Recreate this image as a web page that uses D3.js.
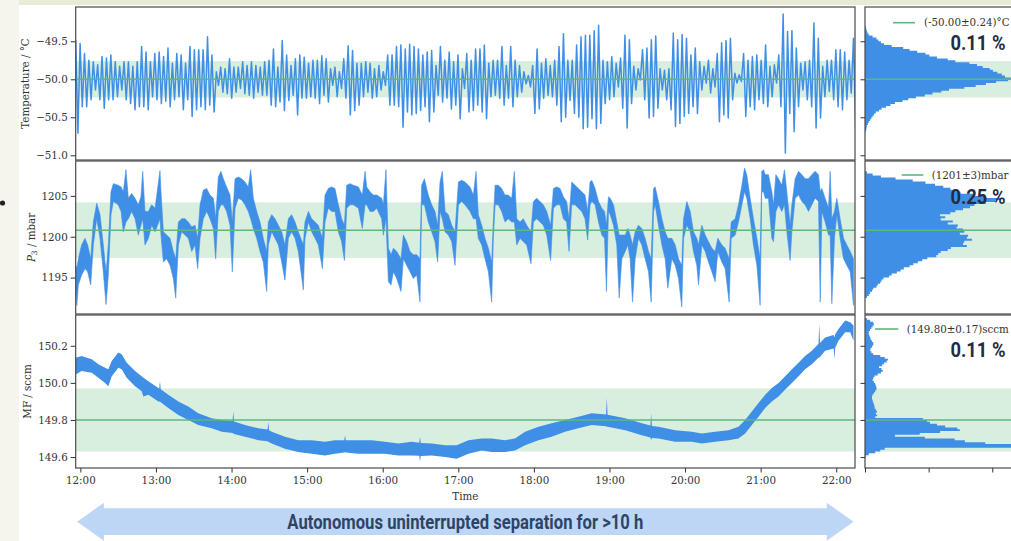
<!DOCTYPE html>
<html>
<head>
<meta charset="utf-8">
<script src="https://cdn.jsdelivr.net/npm/d3@7"></script>
<style>
  html, body { margin: 0; padding: 0; background: #f5f5ee; overflow: hidden; }
  svg { display: block; }
  .tick text { font-family: "DejaVu Serif", serif; font-size: 10.3px; fill: #333; }
  .tick line { stroke: #333; stroke-width: 1; }
</style>
</head>
<body>
<svg id="chart" width="1011" height="541"></svg>
<script>
// ---------- time axis (minutes after 12:00) ----------
const hourTickMinutes = [0, 60, 120, 180, 240, 300, 360, 420, 480, 540, 600];
const hourTickLabels = ["12:00", "13:00", "14:00", "15:00", "16:00", "17:00", "18:00", "19:00", "20:00", "21:00", "22:00"];

// ---------- temperature (°C): successive maxima / minima of the regulation swing ----------
const tempStartMin = -3.7;
const tempStepMin = 1.744;
const temperature = [
  // 12:00 – 13:30
  -49.48,-50.71, -49.53,-50.36, -49.66,-50.36, -49.75,-50.27, -49.77,-50.14, -49.81,-50.27, -49.70,-50.38, -49.72,-50.27, -49.68,-50.27, -49.77,-50.23,
  -49.83,-50.14, -49.77,-50.27, -49.77,-50.32, -49.83,-50.40, -49.77,-50.36, -49.57,-50.36, -49.64,-50.40, -49.77,-50.23, -49.66,-50.27, -49.64,-50.32,
  -49.70,-50.29, -49.59,-50.36, -49.79,-50.27, -49.66,-50.23, -49.68,-50.40, -49.79,-50.27, -49.57,-50.49, -49.61,-50.40, -49.61,-50.36, -49.61,-50.40,
  // 13:30 – 15:10
  -49.44,-50.34, -49.68,-50.43, -49.90,-50.08, -49.84,-50.17, -49.86,-50.19, -49.73,-50.25, -49.84,-50.17, -49.84,-50.12, -49.77,-50.19, -49.82,-50.21,
  -49.77,-50.25, -49.82,-50.17, -49.84,-50.21, -49.77,-50.21, -49.75,-50.34, -49.60,-50.36, -49.84,-50.30, -49.49,-50.41, -49.68,-50.28, -49.82,-50.21,
  -49.73,-50.47, -49.68,-50.25, -49.71,-50.25, -49.79,-50.23, -49.75,-50.25, -49.75,-50.32, -49.69,-50.21, -49.73,-50.30, -49.86,-50.08, -49.84,-50.23,
  // 15:10 – 18:40
  -49.90,-50.12, -49.73,-50.25, -49.56,-50.47, -49.62,-50.41, -49.79,-50.34, -49.79,-50.23, -49.77,-50.17, -49.79,-50.25, -49.86,-50.23, -49.82,-50.14,
  -49.90,-50.08, -49.68,-50.34, -49.68,-50.34, -49.57,-50.36, -49.55,-50.63, -49.60,-50.43, -49.54,-50.47, -49.57,-50.45, -49.60,-50.41, -49.68,-50.36,
  -49.64,-50.56, -49.62,-50.43, -49.82,-50.21, -49.57,-50.30, -49.75,-50.25, -49.64,-50.39, -49.77,-50.34, -49.68,-50.52, -49.86,-50.12, -49.66,-50.43,
  -49.75,-50.41, -49.60,-50.34, -49.60,-50.43, -49.55,-50.52, -49.79,-50.23, -49.75,-50.21, -49.75,-50.25, -49.57,-50.34, -49.82,-50.25, -49.57,-50.36,
  -49.75,-50.23, -49.82,-50.17, -49.90,-50.06, -49.95,-50.10, -49.82,-50.45, -49.60,-50.39, -49.79,-50.25, -49.73,-50.21, -49.82,-50.23, -49.75,-50.34,
  -49.57,-50.56, -49.40,-50.50, -49.75,-50.28, -49.75,-50.45, -49.55,-50.50, -49.44,-50.65, -49.42,-50.63, -49.42,-50.52, -49.36,-50.65, -49.29,-50.58,
  // 18:40 – 22:14
  -49.75,-50.32, -49.77,-50.27, -49.70,-50.23, -49.79,-50.10, -49.72,-50.38, -49.42,-50.64, -49.48,-50.32, -49.83,-50.14, -49.86,-50.01, -49.61,-50.27,
  -49.59,-50.51, -49.48,-50.49, -49.43,-50.38, -49.86,-50.14, -49.88,-50.27, -49.86,-50.40, -49.39,-50.62, -49.48,-50.58, -49.41,-50.49, -49.46,-50.45,
  -49.68,-50.36, -49.59,-50.45, -49.77,-50.14, -49.83,-50.05, -49.75,-50.18, -49.86,-50.10, -49.66,-50.56, -49.52,-50.47, -49.49,-50.51, -49.46,-50.27,
  -49.92,-50.05, -49.94,-50.03, -49.66,-50.49, -49.75,-50.36, -49.70,-50.40, -49.68,-50.27, -49.75,-50.32, -49.55,-50.36, -49.83,-50.23, -49.81,-50.05,
  -49.68,-50.36, -49.14,-50.97, -49.37,-50.45, -49.36,-50.69, -49.59,-50.36, -49.79,-50.14, -49.77,-50.27, -49.75,-50.36, -49.26,-50.64, -49.46,-50.51,
  -49.83,-50.23, -49.75,-50.16, -49.75,-50.27, -49.61,-50.36, -49.61,-50.40, -49.64,-50.27, -49.75,-50.18, -49.46,-50.64, -49.31,-50.71,
  -49.61
];

// ---------- pressure P3 (mbar): lower / upper envelope of the noisy trace ----------
const p3Minutes = [
  -3.7,-2.8,-1.6,1.0,3.7,5.8,8.2,10.3,13.0,15.6,18.2,20.4,22.2,24.3,26.2,30.1,32.3,34.1,36.2,38.1,
  40.7,43.4,46.0,48.1,49.5,51.3,54.0,56.6,59.3,63.2,64.0,65.9,68.5,71.2,73.8,75.7,77.8,80.4,83.1,85.7,
  88.4,91.0,93.1,95.0,97.6,100.3,102.9,105.6,107.4,109.5,111.6,113.5,116.1,118.8,120.6,122.8,125.4,128.0,130.7,133.3,
  135.2,137.3,140.0,142.6,145.2,147.9,149.2,151.9,154.5,157.2,159.8,162.4,165.1,167.7,170.4,173.0,177.0,178.3,181.0,183.6,
  186.3,188.9,192.1,194.2,196.8,199.5,202.1,204.8,207.4,209.6,211.4,214.1,216.7,220.7,223.8,226.0,227.3,229.9,232.6,235.2,
  239.2,240.5,242.6,244.5,246.6,248.5,251.1,254.5,256.4,259.0,261.7,264.3,267.0,269.6,270.9,273.1,276.2,278.9,281.5,283.6,
  285.5,287.3,289.5,292.1,294.8,297.4,300.1,302.7,305.3,309.3,312.0,314.1,315.9,318.6,321.2,323.9,326.5,327.8,329.2,331.8,
  334.4,337.1,339.7,342.4,344.5,346.4,349.0,351.6,354.3,357.7,359.6,362.2,364.9,367.5,370.2,373.3,375.5,378.1,380.8,383.4,
  386.0,387.9,390.0,392.7,395.3,398.0,400.6,402.7,404.6,406.0,408.6,411.3,413.9,416.1,417.6,419.2,420.6,423.2,425.8,427.7,
  429.8,432.5,434.6,436.4,438.3,440.4,443.0,445.7,448.3,451.0,453.1,455.0,456.3,458.9,461.6,464.2,466.3,469.5,472.2,474.8,
  477.4,478.8,481.4,484.1,486.7,489.3,490.7,493.3,496.0,498.6,501.3,503.9,506.0,509.2,511.8,515.0,516.6,519.8,522.4,525.1,
  527.2,529.0,531.7,534.3,537.0,539.6,540.9,542.3,543.6,546.2,548.9,550.2,552.1,554.2,556.8,558.9,560.8,563.4,564.8,567.4,
  570.1,572.7,575.3,578.0,580.6,583.3,585.9,587.3,588.6,591.2,593.9,595.2,596.5,598.6,600.5,603.1,605.8,608.4,611.1,613.7
];
const p3Low = [
  1193.7,1191.6,1194.1,1195.3,1196.1,1195.7,1194.1,1199.0,1202.2,1199.8,1195.7,1191.7,1195.3,1202.7,1204.3,1203.9,1203.1,1200.6,1201.8,1202.2,
  1203.1,1202.2,1200.2,1201.4,1202.2,1199.0,1199.8,1201.4,1200.6,1202.2,1200.2,1196.9,1197.3,1196.5,1194.9,1192.5,1199.0,1200.6,1200.2,1199.8,
  1198.2,1199.0,1196.1,1199.8,1202.2,1203.1,1202.2,1201.0,1197.3,1203.1,1203.9,1203.9,1203.1,1201.4,1195.7,1203.5,1204.7,1204.5,1203.9,1203.1,
  1202.2,1201.0,1199.8,1198.2,1196.9,1193.3,1199.0,1200.6,1199.8,1199.0,1196.9,1194.7,1199.8,1200.6,1199.8,1198.2,1193.5,1199.8,1201.8,1200.6,
  1199.8,1199.0,1196.1,1201.8,1203.5,1203.1,1203.1,1200.6,1199.4,1197.1,1203.5,1203.9,1203.9,1203.5,1201.0,1203.9,1203.9,1203.1,1203.1,1203.5,
  1202.2,1200.2,1202.2,1194.5,1194.1,1195.7,1194.9,1193.3,1197.3,1196.5,1195.7,1194.9,1195.3,1192.0,1203.9,1203.9,1201.8,1200.6,1199.4,1196.9,
  1203.1,1202.2,1200.6,1200.2,1199.4,1196.5,1203.9,1204.3,1203.9,1203.1,1202.2,1202.2,1199.8,1199.0,1197.3,1195.7,1192.0,1199.8,1203.9,1203.9,
  1203.1,1201.8,1202.2,1201.8,1201.8,1199.0,1199.8,1199.4,1199.0,1196.7,1201.8,1202.2,1201.8,1201.4,1200.2,1197.1,1203.5,1203.9,1203.9,1202.2,
  1201.8,1198.2,1203.9,1203.9,1203.5,1203.1,1202.2,1199.6,1203.9,1204.3,1203.9,1201.8,1200.2,1199.8,1193.3,1203.1,1202.7,1201.4,1199.0,1192.5,
  1197.3,1198.2,1199.0,1197.3,1192.0,1197.3,1199.8,1199.0,1197.3,1195.7,1192.0,1203.1,1203.9,1201.4,1199.0,1197.3,1193.7,1197.3,1196.5,1194.9,
  1191.4,1199.8,1201.4,1200.6,1198.2,1196.5,1194.1,1199.0,1198.2,1196.9,1195.7,1194.5,1198.2,1196.9,1196.1,1192.0,1199.8,1200.2,1201.8,1203.9,
  1205.5,1204.7,1202.2,1199.0,1196.5,1191.6,1205.5,1205.5,1204.7,1204.7,1199.8,1199.4,1203.1,1203.9,1203.1,1203.9,1200.6,1197.1,1200.6,1204.7,
  1205.1,1204.3,1203.9,1203.1,1203.9,1204.7,1204.3,1192.0,1203.1,1201.8,1200.2,1200.2,1191.8,1199.8,1202.7,1199.8,1197.3,1196.5,1195.7,1191.6
];
const p3High = [
  1196.5,1196.1,1197.3,1199.0,1199.8,1199.0,1197.3,1201.8,1204.1,1202.7,1199.0,1195.7,1199.0,1205.5,1206.5,1206.3,1206.1,1205.5,1208.2,1204.7,
  1205.3,1204.7,1203.9,1204.9,1208.0,1203.1,1203.1,1203.9,1203.5,1208.1,1205.5,1200.6,1200.2,1199.8,1198.2,1197.3,1201.8,1202.2,1202.2,1201.8,
  1201.2,1201.4,1199.8,1203.9,1205.7,1205.9,1205.1,1204.7,1202.2,1207.3,1208.0,1207.1,1206.1,1205.1,1201.8,1207.1,1207.3,1207.1,1206.7,1206.1,
  1208.2,1204.7,1203.1,1201.8,1199.8,1198.2,1201.8,1202.7,1202.2,1201.4,1200.6,1199.0,1202.2,1202.7,1201.8,1200.6,1199.0,1201.8,1203.1,1202.2,
  1201.8,1201.4,1199.8,1205.1,1205.9,1206.1,1205.9,1203.9,1202.2,1201.4,1206.3,1206.5,1206.3,1206.1,1205.1,1208.0,1206.1,1205.5,1205.1,1205.1,
  1204.7,1203.9,1208.2,1198.6,1197.8,1198.6,1198.2,1197.3,1200.2,1199.4,1198.2,1197.8,1197.8,1197.3,1206.3,1207.1,1205.1,1203.9,1203.1,1201.4,
  1206.7,1208.0,1203.1,1202.7,1201.4,1200.6,1206.7,1206.9,1206.7,1206.1,1205.1,1208.0,1202.7,1201.4,1199.8,1198.6,1196.9,1201.8,1206.3,1206.3,
  1205.9,1205.1,1205.1,1204.7,1208.0,1202.2,1201.8,1202.2,1201.4,1200.6,1204.3,1204.7,1204.3,1203.9,1203.1,1201.4,1205.9,1206.1,1205.9,1204.9,
  1204.3,1202.2,1206.7,1206.3,1205.9,1205.5,1205.1,1203.1,1206.7,1206.9,1205.9,1204.3,1203.5,1203.1,1201.4,1204.9,1204.7,1203.9,1201.8,1200.2,
  1200.2,1200.2,1201.0,1200.2,1199.0,1200.6,1201.4,1201.0,1199.8,1198.2,1197.3,1205.9,1206.1,1204.3,1202.2,1200.6,1199.8,1199.8,1199.0,1197.3,
  1196.5,1202.2,1204.3,1203.1,1200.6,1199.8,1199.0,1201.4,1200.2,1199.4,1198.6,1198.2,1199.8,1199.0,1198.6,1197.3,1201.8,1202.2,1203.9,1206.3,
  1208.4,1207.6,1204.7,1202.2,1199.8,1197.3,1208.0,1208.2,1207.6,1207.6,1205.5,1203.9,1207.6,1207.1,1206.3,1208.2,1205.5,1201.4,1203.9,1207.1,
  1208.0,1207.6,1207.1,1207.1,1207.6,1208.0,1207.6,1205.5,1205.9,1204.7,1203.5,1208.0,1202.2,1203.1,1204.7,1202.2,1199.8,1199.0,1198.2,1197.3
];

// ---------- mass flow MF (sccm): lower / upper envelope ----------
const mfMinutes = [
  -3.7,1.0,9.0,14.3,19.6,22.2,24.9,30.1,32.8,36.8,43.4,48.7,50.0,54.0,61.9,62.6,63.2,63.8,69.8,77.8,
  85.7,93.6,104.2,112.2,120.8,121.4,122.0,130.7,141.3,148.6,149.2,149.8,151.9,162.4,173.0,183.6,194.2,202.1,209.5,210.1,
  210.7,220.7,231.3,241.8,252.4,263.0,269.0,269.6,270.2,278.9,289.5,298.7,308.0,318.6,326.5,337.1,345.0,353.0,363.6,374.1,
  384.7,395.3,405.9,417.3,417.9,418.5,432.5,445.7,452.5,453.1,453.7,458.9,472.2,485.4,493.3,503.9,514.5,522.4,527.7,533.0,
  538.3,543.6,548.9,554.2,559.5,564.8,570.1,575.3,580.6,585.9,586.5,587.1,591.2,596.5,598.0,598.6,599.2,601.8,607.1,611.1,
  613.7
];
const mfLow = [
  150.045,150.064,150.055,150.027,150.000,149.982,150.036,150.082,150.073,150.027,149.982,149.955,149.927,149.936,149.900,149.898,149.900,149.895,149.864,149.827,
  149.800,149.773,149.755,149.736,149.730,149.727,149.725,149.709,149.691,149.685,149.682,149.680,149.673,149.645,149.627,149.618,149.609,149.618,149.625,149.627,
  149.625,149.618,149.618,149.618,149.609,149.609,149.607,149.576,149.606,149.609,149.600,149.591,149.618,149.636,149.627,149.627,149.636,149.664,149.691,149.709,
  149.736,149.755,149.773,149.766,149.764,149.764,149.745,149.718,149.705,149.691,149.703,149.700,149.682,149.682,149.673,149.682,149.691,149.700,149.727,149.773,
  149.818,149.864,149.900,149.927,149.964,150.000,150.036,150.073,150.100,150.136,150.136,150.140,150.173,150.182,150.185,150.127,150.190,150.227,150.273,150.273,
  150.227
];
const mfHigh = [
  150.136,150.145,150.127,150.100,150.082,150.073,150.118,150.164,150.155,150.109,150.064,150.036,150.027,150.009,149.973,149.970,150.009,149.965,149.936,149.900,
  149.873,149.836,149.809,149.800,149.795,149.845,149.792,149.773,149.755,149.748,149.791,149.745,149.736,149.709,149.691,149.691,149.682,149.691,149.690,149.718,
  149.690,149.691,149.691,149.682,149.673,149.682,149.677,149.709,149.676,149.673,149.664,149.664,149.691,149.700,149.700,149.691,149.700,149.736,149.764,149.782,
  149.800,149.818,149.836,149.830,149.918,149.828,149.809,149.782,149.770,149.836,149.768,149.764,149.745,149.736,149.727,149.736,149.745,149.764,149.800,149.845,
  149.891,149.936,149.973,150.000,150.036,150.073,150.109,150.145,150.173,150.209,150.318,150.215,150.245,150.255,150.258,150.245,150.262,150.291,150.336,150.327,
  150.309
];

// ---------- distributions (counts per bin) ----------
const tempBinStart = -50.70, tempBinWidth = 0.025;
const tempHist = [
  10,20,25,30,45,60,80,100,120,140, 170,220,260,330,400,470,590,680,800,940,
  1060,1200,1320,1560,1740,1900,2060,2250,2290,2200, 2150,2080,2010,1960,1850,1760,1640,1420,1300,1130,
  1010,950,820,700,600,420,300,250,210,180, 120,60,40,30,20,10
];
const p3BinStart = 1192.5, p3BinWidth = 0.25;
const p3Hist = [
  30,60,80,110,130,180,200,240,260,290, 380,420,500,560,610,700,760,830,900,980,
  1120,1150,1190,1300,1350,1600,1540,1560,1680,1600, 1620,1490,1560,1540,1440,1460,1300,1380,1190,1260,
  1180,1340,1420,1540,1650,1720,1900,2050,2120,1880, 1700,1500,1420,1340,1230,1100,950,750,480,250,
  120,30
];
const mfBinStart = 149.60, mfBinWidth = 0.01;
const mfHist = [
  15,60,160,240,310,2330,2360,1890,1570,1410, 940,470,860,1180,1490,1450,1260,1130,1020,975,
  910,160,190,170,190,170,150,150,140,130, 120,110,110,120,140,160,180,180,170,160,
  140,120,130,150,200,250,280,260,220,270, 300,340,360,310,240,130,100,80,90,110,
  130,130,110,90,80,70,60,60,80,100, 120,140,130,80,30
];
const histCountTicks = [0, 1000, 2000];

// ---------- summary statistics ----------
const seriesMean = [-50.00, 1200.8, 149.80];
const seriesStd = [0.24, 3.4, 0.17];
const relDeviation = ["0.11 %", "0.25 %", "0.11 %"];

// ---------- axis ticks ----------
const tempTicks = [-51.0, -50.5, -50.0, -49.5];
const p3Ticks = [1195, 1200, 1205];
const mfTicks = [149.6, 149.8, 150.0, 150.2];

// ---------- drawing ----------
const W = 1011, H = 541;
const BLUE = "#3f8fe6", GREEN = "#5cb97b", BAND = "rgba(92,185,123,0.24)";
const FRAME = "#4a4a4a";
const SERIF = "'DejaVu Serif', serif";

const mainLeft = 75.7, mainRight = 855;
const histLeft = 865, histRight = 1040;
const panelTop = [7, 161, 315], panelBottom = [160, 314, 468];

const svg = d3.select("#chart");
svg.append("rect").attr("width", W).attr("height", H).attr("fill", "#f5f5ee");
svg.append("rect").attr("x", 19).attr("y", 0).attr("width", W - 19).attr("height", 5).attr("fill", "#e8ecd7");
svg.append("rect").attr("x", 19).attr("y", 5).attr("width", W - 19).attr("height", H - 5).attr("fill", "#ffffff");
svg.append("circle").attr("cx", 2.5).attr("cy", 203).attr("r", 2.6).attr("fill", "#222");

const x = d3.scaleLinear().domain([-3.7, 614.9]).range([mainLeft, mainRight]);
const hx = d3.scaleLinear().domain([0, 2750]).range([histLeft, histRight]);

const panels = [
  {
    domain: [-51.062, -49.049], ticks: tempTicks, fmt: d3.format(".1f"),
    hist: tempHist, binStart: tempBinStart, binWidth: tempBinWidth,
    legend: `(${seriesMean[0].toFixed(2)}±${seriesStd[0].toFixed(2)})°C`,
    legendLine: [893, 915], legendY: 22.7, legendTextX: 924, pctY: 50,
    draw(g, y) {
      const line = d3.line()
        .x((d, i) => x(tempStartMin + i * tempStepMin))
        .y(d => y(d));
      g.append("path").datum(temperature).attr("d", line)
        .attr("fill", "none").attr("stroke", BLUE).attr("stroke-width", 1.5)
        .attr("stroke-linejoin", "round");
    }
  },
  {
    domain: [1190.54, 1209.27], ticks: p3Ticks, fmt: d3.format("d"),
    hist: p3Hist, binStart: p3BinStart, binWidth: p3BinWidth,
    legend: `(${seriesMean[1].toFixed(0)}±${seriesStd[1].toFixed(0)})mbar`,
    legendLine: [901.7, 923.3], legendY: 175, legendTextX: 931.7, pctY: 204,
    draw(g, y) {
      const area = d3.area()
        .x(i => x(p3Minutes[i])).y0(i => y(p3Low[i])).y1(i => y(p3High[i]));
      g.append("path").datum(d3.range(p3Minutes.length)).attr("d", area)
        .attr("fill", BLUE).attr("stroke", BLUE).attr("stroke-width", 0.6)
        .attr("stroke-linejoin", "round");
    }
  },
  {
    domain: [149.541, 150.366], ticks: mfTicks, fmt: d3.format(".1f"),
    hist: mfHist, binStart: mfBinStart, binWidth: mfBinWidth,
    legend: `(${seriesMean[2].toFixed(2)}±${seriesStd[2].toFixed(2)})sccm`,
    legendLine: [875, 898.3], legendY: 329, legendTextX: 906.7, pctY: 356.7,
    draw(g, y) {
      const area = d3.area()
        .x(i => x(mfMinutes[i])).y0(i => y(mfLow[i])).y1(i => y(mfHigh[i]));
      g.append("path").datum(d3.range(mfMinutes.length)).attr("d", area)
        .attr("fill", BLUE).attr("stroke", "none");
    }
  }
];

panels.forEach((p, i) => {
  const top = panelTop[i], bot = panelBottom[i];
  const y = d3.scaleLinear().domain(p.domain).range([bot, top]);
  const mean = seriesMean[i], sd = seriesStd[i];

  // --- time-series panel ---
  const cid = "clip-main-" + i;
  svg.append("clipPath").attr("id", cid).append("rect")
    .attr("x", mainLeft).attr("y", top).attr("width", mainRight - mainLeft).attr("height", bot - top);
  const g = svg.append("g").attr("clip-path", `url(#${cid})`);
  g.append("rect").attr("x", mainLeft).attr("width", mainRight - mainLeft)
    .attr("y", y(mean + sd)).attr("height", y(mean - sd) - y(mean + sd)).attr("fill", BAND);
  p.draw(g, y);
  g.append("line").attr("x1", mainLeft).attr("x2", mainRight)
    .attr("y1", y(mean)).attr("y2", y(mean)).attr("stroke", GREEN).attr("stroke-width", 1.6);
  svg.append("rect").attr("x", mainLeft).attr("y", top).attr("width", mainRight - mainLeft).attr("height", bot - top)
    .attr("fill", "none").attr("stroke", FRAME).attr("stroke-width", 1.2);

  svg.append("g").attr("transform", `translate(${mainLeft},0)`)
    .call(d3.axisLeft(y).tickValues(p.ticks).tickFormat(p.fmt).tickSize(5).tickPadding(3))
    .call(a => a.select(".domain").remove());

  // --- distribution panel ---
  const hid = "clip-hist-" + i;
  svg.append("clipPath").attr("id", hid).append("rect")
    .attr("x", histLeft).attr("y", top).attr("width", histRight - histLeft).attr("height", bot - top);
  const hg = svg.append("g").attr("clip-path", `url(#${hid})`);
  hg.append("rect").attr("x", histLeft).attr("width", histRight - histLeft)
    .attr("y", y(mean + sd)).attr("height", y(mean - sd) - y(mean + sd)).attr("fill", BAND);

  const pts = [[0, p.binStart]];
  p.hist.forEach((c, k) => {
    pts.push([c, p.binStart + k * p.binWidth]);
    pts.push([c, p.binStart + (k + 1) * p.binWidth]);
  });
  pts.push([0, p.binStart + p.hist.length * p.binWidth]);
  hg.append("path").datum(pts)
    .attr("d", d3.line().x(d => hx(d[0])).y(d => y(d[1])))
    .attr("fill", BLUE).attr("stroke", "none");

  hg.append("line").attr("x1", histLeft).attr("x2", histRight)
    .attr("y1", y(mean)).attr("y2", y(mean)).attr("stroke", GREEN).attr("stroke-width", 1.6);
  svg.append("rect").attr("x", histLeft).attr("y", top).attr("width", histRight - histLeft).attr("height", bot - top)
    .attr("fill", "none").attr("stroke", FRAME).attr("stroke-width", 1.2);
  svg.append("g").attr("transform", `translate(${histLeft},0)`)
    .call(d3.axisLeft(y).tickValues(p.ticks).tickFormat("").tickSize(4.5))
    .call(a => a.select(".domain").remove());

  // legend entry
  svg.append("line").attr("x1", p.legendLine[0]).attr("x2", p.legendLine[1])
    .attr("y1", p.legendY).attr("y2", p.legendY).attr("stroke", GREEN).attr("stroke-width", 1.6);
  svg.append("text").attr("x", p.legendTextX).attr("y", p.legendY + 3.7)
    .attr("font-family", SERIF).attr("font-size", 10.3).attr("fill", "#333").text(p.legend);

  // relative deviation
  svg.append("text").attr("x", 1005.5).attr("y", p.pctY).attr("text-anchor", "end")
    .attr("font-family", "Roboto, sans-serif").attr("font-weight", 700).attr("font-size", 20.5)
    .attr("textLength", 55).attr("lengthAdjust", "spacingAndGlyphs")
    .attr("fill", "#1f2c43").text(relDeviation[i]);
});

// time axis
svg.append("g").attr("transform", `translate(0,${panelBottom[2]})`)
  .call(d3.axisBottom(x).tickValues(hourTickMinutes).tickFormat((d, i) => hourTickLabels[i]).tickSize(4.5).tickPadding(4))
  .call(a => a.select(".domain").remove());
svg.append("g").attr("transform", `translate(0,${panelBottom[2]})`)
  .call(d3.axisBottom(hx).tickValues(histCountTicks).tickFormat("").tickSize(4.5))
  .call(a => a.select(".domain").remove());

svg.append("text").attr("x", (mainLeft + mainRight) / 2).attr("y", 499.5).attr("text-anchor", "middle")
  .attr("font-family", SERIF).attr("font-size", 10.3).attr("fill", "#333").text("Time");

// y-axis titles
function yTitle(cx, cy) {
  return svg.append("text").attr("transform", `translate(${cx},${cy}) rotate(-90)`)
    .attr("text-anchor", "middle").attr("dy", "0.35em")
    .attr("font-family", SERIF).attr("font-size", 10.3).attr("fill", "#333");
}
yTitle(25.5, (panelTop[0] + panelBottom[0]) / 2).text("Temperature / °C");
const pt = yTitle(31, (panelTop[1] + panelBottom[1]) / 2);
pt.append("tspan").attr("font-style", "italic").text("P");
pt.append("tspan").attr("font-size", 7.5).attr("dy", 2.5).text("3");
pt.append("tspan").attr("dy", -2.5).text(" / mbar");
yTitle(27, (panelTop[2] + panelBottom[2]) / 2).text("MF / sccm");

// run-length arrow
const aL = x(mfMinutes[0]) + 1.5, aR = x(mfMinutes[mfMinutes.length - 1]);
const acy = 521.7, headLen = 26.7, headHalf = 19, bodyHalf = 13.4;
svg.append("path").attr("d", [
  "M", aL, acy, "L", aL + headLen, acy - headHalf, "L", aL + headLen, acy - bodyHalf,
  "L", aR - headLen, acy - bodyHalf, "L", aR - headLen, acy - headHalf, "L", aR, acy,
  "L", aR - headLen, acy + headHalf, "L", aR - headLen, acy + bodyHalf,
  "L", aL + headLen, acy + bodyHalf, "L", aL + headLen, acy + headHalf, "Z"
].join(" ")).attr("fill", "#bdd6f6");
svg.append("text").attr("x", (aL + aR) / 2).attr("y", 529).attr("text-anchor", "middle")
  .attr("font-family", "Roboto, sans-serif").attr("font-weight", 700).attr("font-size", 20)
  .attr("textLength", 356).attr("lengthAdjust", "spacingAndGlyphs")
  .attr("fill", "#2e4466").text("Autonomous uninterrupted separation for >10 h");
</script>
</body>
</html>
